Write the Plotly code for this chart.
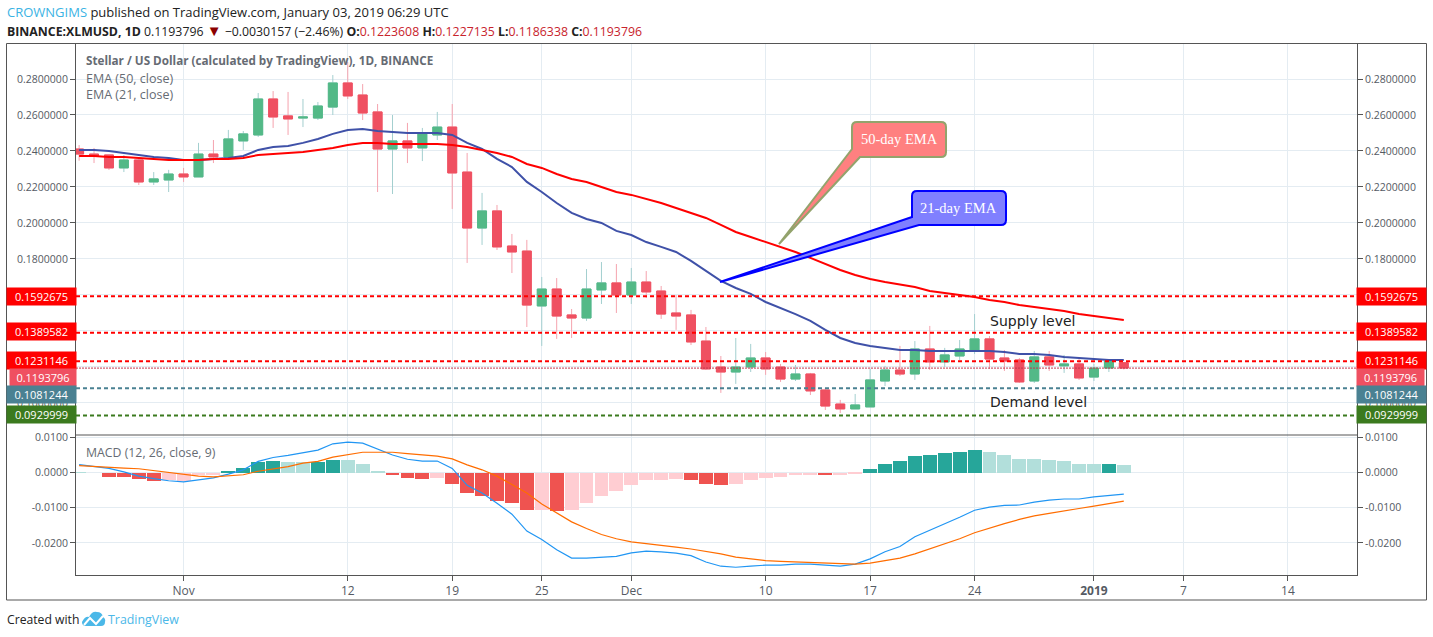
import pandas as pd
import plotly.graph_objects as go
from plotly.subplots import make_subplots

W, H = 1433, 637
LEFT, RIGHT, TOP, BOTTOM = 76, 1357, 43, 575

# daily candles, 2018-10-25 to 2019-01-03
dates = pd.date_range("2018-10-25", "2019-01-03", freq="D")
opens = [.2411, .2383, .2378, .2306, .2350, .2228, .2239,
         .2272, .2256, .2383, .2367, .2456, .2489, .2689, .2595, .2583, .2583, .2644, .2778, .2711, .2617, .2411,
         .2456, .2417, .2489, .2533, .2283, .1972, .2067, .1872, .1844, .1539, .1633, .1489, .1472, .1628, .1667,
         .1600, .1672, .1622, .1500, .1489, .1344, .1200, .1172, .1200, .1250, .1200, .1133, .1161, .1072, .0994,
         .0967, .0978, .1122, .1183, .1161, .1300, .1228, .1261, .1294, .1356, .1250, .1239, .1122, .1256, .1206,
         .1217, .1144, .1194, .12236]
highs = [.2433, .2417, .2378, .2378, .2367, .2283, .2295,
         .2306, .2445, .2461, .2517, .2511, .2722, .2733, .2728, .2689, .2672, .2822, .2894, .2772, .2661, .2600,
         .2556, .2528, .2617, .2661, .2389, .2167, .2100, .1939, .1906, .1700, .1694, .1522, .1744, .1783, .1772,
         .1750, .1733, .1650, .1600, .1517, .1422, .1261, .1361, .1328, .1283, .1217, .1211, .1167, .1083, .1017,
         .1050, .1189, .1206, .1317, .1344, .1428, .1306, .1350, .1494, .1372, .1294, .1250, .1289, .1289, .1267,
         .1244, .1217, .1239, .12271]
lows = [.2346, .2333, .2295, .2283, .2211, .2211, .2172,
        .2228, .2256, .2333, .2356, .2406, .2478, .2528, .2489, .2533, .2572, .2600, .2689, .2572, .2172, .2161,
        .2333, .2344, .2461, .2078, .1778, .1878, .1850, .1722, .1422, .1317, .1356, .1361, .1456, .1550, .1500,
        .1550, .1583, .1467, .1406, .1322, .1183, .1056, .1106, .1172, .1156, .1117, .1122, .1044, .0961, .0944,
        .0967, .0978, .1094, .1150, .1128, .1183, .1200, .1239, .1272, .1189, .1178, .1111, .1111, .1178, .1167,
        .1128, .1122, .1172, .11863]
closes = [.2383, .2372, .2306, .2350, .2228, .2245, .2272,
          .2256, .2383, .2367, .2467, .2495, .2689, .2589, .2578, .2589, .2650, .2778, .2706, .2611, .2411, .2456,
          .2417, .2494, .2533, .2278, .1972, .2067, .1867, .1839, .1544, .1633, .1483, .1472, .1633, .1667, .1600,
          .1672, .1617, .1494, .1483, .1339, .1189, .1172, .1200, .1250, .1189, .1133, .1161, .1067, .0983, .0967,
          .0989, .1128, .1183, .1161, .1300, .1228, .1267, .1300, .1356, .1244, .1233, .1117, .1256, .1211, .1217,
          .1139, .1194, .1233, .11938]

ema_21 = [.2406, .2406, .2400, .2389, .2378, .2367, .2361,
          .2350, .2350, .2356, .2361, .2372, .2406, .2422, .2428, .2445, .2467, .2495, .2517, .2522, .2511, .2506,
          .2500, .2500, .2500, .2489, .2445, .2411, .2356, .2311, .2228, .2172, .2111, .2056, .2022, .2000, .1956,
          .1933, .1894, .1867, .1839, .1789, .1733, .1678, .1639, .1606, .1561, .1528, .1494, .1456, .1406, .1361,
          .1333, .1317, .1306, .1294, .1294, .1289, .1289, .1289, .1289, .1289, .1283, .1272, .1272, .1267, .1256,
          .1250, .1244, .1239, .1239]
ema_50 = [.2372, .2372, .2367, .2367, .2361, .2356, .2350,
          .2350, .2350, .2356, .2356, .2361, .2378, .2383, .2389, .2394, .2406, .2417, .2433, .2445, .2445, .2439,
          .2439, .2439, .2439, .2433, .2422, .2406, .2389, .2367, .2328, .2306, .2272, .2244, .2228, .2200, .2172,
          .2156, .2133, .2111, .2083, .2056, .2028, .1989, .1950, .1922, .1894, .1867, .1839, .1806, .1772, .1739,
          .1711, .1689, .1672, .1656, .1644, .1622, .1611, .1600, .1589, .1572, .1561, .1544, .1533, .1522, .1511,
          .1494, .1483, .1472, .1461]

macd_hist = [.0001, 0, -.0011, -.0013, -.0019, -.0025, -.0022,
             -.0024, -.0008, -.0006, .0004, .0013, .0030, .0033, .0030, .0030, .0030, .0036, .0036, .0024, .0004, -.0007,
             -.0016, -.0019, -.0016, -.0031, -.0057, -.0066, -.0080, -.0086, -.0106, -.0106, -.0109, -.0106, -.0086, -.0066, -.0051,
             -.0034, -.0022, -.0022, -.0019, -.0022, -.0031, -.0034, -.0031, -.0022, -.0016, -.0013, -.0008, -.0008, -.0008, -.0008,
             -.0005, .0010, .0024, .0033, .0047, .0050, .0056, .0059, .0065, .0059, .0050, .0039, .0039, .0036, .0033,
             .0024, .0024, .0024, .0021]
# T strong up, t fading up, R strong down, r fading down
hist_state = ("ttRRRRr" + "rrrTTTTttTTtttRRRrRRRRRRrRrrrr"
              + "rrrrRRRrrrrrrRrrTTTTTTTTttttttt" + "tTt")
macd_line = [.0023, .0017, .0012, .0002, -.0010, -.0017, -.0023,
             -.0026, -.0021, -.0015, -.0004, .0008, .0032, .0043, .0049, .0056, .0064, .0082, .0087, .0084, .0066, .0050,
             .0038, .0033, .0033, .0012, -.0036, -.0058, -.0087, -.0118, -.0166, -.0190, -.0219, -.0243, -.0243, -.0240, -.0238,
             -.0228, -.0223, -.0225, -.0229, -.0236, -.0254, -.0266, -.0269, -.0266, -.0263, -.0263, -.0260, -.0260, -.0263, -.0266,
             -.0260, -.0245, -.0225, -.0210, -.0182, -.0164, -.0147, -.0127, -.0107, -.0098, -.0093, -.0092, -.0084, -.0078, -.0075,
             -.0075, -.0069, -.0064, -.0061]
macd_signal = [.0020, .0017, .0016, .0013, .0011, .0006, 0,
               -.0006, -.0010, -.0012, -.0010, -.0006, .0004, .0010, .0017, .0027, .0032, .0044, .0052, .0058, .0058, .0058,
               .0054, .0050, .0047, .0039, .0022, .0008, -.0010, -.0034, -.0058, -.0089, -.0114, -.0140, -.0159, -.0176, -.0188,
               -.0197, -.0202, -.0206, -.0212, -.0217, -.0223, -.0231, -.0240, -.0246, -.0250, -.0252, -.0254, -.0255, -.0257, -.0258,
               -.0260, -.0257, -.0250, -.0243, -.0231, -.0217, -.0202, -.0188, -.0171, -.0157, -.0145, -.0133, -.0123, -.0116, -.0108,
               -.0102, -.0095, -.0088, -.0081]

# horizontal levels drawn on the chart
supply_levels = [0.1592675, 0.1389582, 0.1231146]
demand_level_1 = 0.1081244
demand_level_2 = 0.0929999
last_close = 0.1193796

price_ticks = [0.28, 0.26, 0.24, 0.22, 0.20, 0.18, 0.16, 0.14, 0.12, 0.10]
# the 0.16, 0.14 and 0.12 labels sit fully behind the level tags
price_tick_text = ["0.2800000", "0.2600000", "0.2400000", "0.2200000", "0.2000000", "0.1800000", "", "", "", "0.1000000"]
macd_ticks = [0.01, 0, -0.01, -0.02]
macd_tick_text = ["0.0100", "0.0000", "-0.0100", "-0.0200"]
date_ticks = ["2018-11-01", "2018-11-12", "2018-11-19", "2018-11-25", "2018-12-01", "2018-12-10",
              "2018-12-17", "2018-12-24", "2019-01-01", "2019-01-07", "2019-01-14"]
date_tick_text = ["Nov", "12", "19", "25", "Dec", "10", "17", "24", "<b>2019</b>", "7", "14"]

x_range = ["2018-10-24 19:00", "2019-01-18 15:00"]
price_range = [0.0822, 0.30]
macd_range = [-0.0291, 0.0107]

FONT = "Open Sans"
TEXT_GREY = "#555a63"
AXIS = "#555555"
GRID = "#e4ecf2"
RED = "#ef5061"
GREEN = "#53b987"
HIST_COLORS = {"T": "#26a69a", "t": "#b2dfdb", "R": "#ef5350", "r": "#ffcdd2"}


def px(x):
    return (x - LEFT) / (RIGHT - LEFT)


def py(y):
    return (BOTTOM - y) / (BOTTOM - TOP)


def pt(x, y):
    return f"{px(x):.5f},{py(y):.5f}"


def callout_path(l, t, r, b, base1, tip, base2, rad=5):
    return ("M" + pt(*base1) + "L" + pt(*tip) + "L" + pt(*base2) + "L" + pt(r - rad, b)
            + "Q" + pt(r, b) + " " + pt(r, b - rad) + "L" + pt(r, t + rad)
            + "Q" + pt(r, t) + " " + pt(r - rad, t) + "L" + pt(l + rad, t)
            + "Q" + pt(l, t) + " " + pt(l, t + rad) + "Z")


fig = make_subplots(rows=2, cols=1, shared_xaxes=True, vertical_spacing=0,
                    row_heights=[392, 140],
                    specs=[[{"secondary_y": True}], [{"secondary_y": True}]])

# wicks first, solid bodies on top
fig.add_trace(go.Candlestick(x=dates, open=opens, high=highs, low=lows, close=closes,
                             increasing=dict(line=dict(color="#a3cfcf", width=1), fillcolor="#a3cfcf"),
                             decreasing=dict(line=dict(color="#f5a3ae", width=1), fillcolor="#f5a3ae"),
                             whiskerwidth=0), row=1, col=1)
body_hi = [max(o, c) for o, c in zip(opens, closes)]
body_lo = [min(o, c) for o, c in zip(opens, closes)]
fig.add_trace(go.Candlestick(x=dates, open=opens, high=body_hi, low=body_lo, close=closes,
                             increasing=dict(line=dict(color=GREEN, width=1), fillcolor=GREEN),
                             decreasing=dict(line=dict(color=RED, width=1), fillcolor=RED),
                             whiskerwidth=0), row=1, col=1)
fig.add_trace(go.Scatter(x=dates, y=ema_21, mode="lines", line=dict(color="#3f51a8", width=2)),
              row=1, col=1, secondary_y=True)
fig.add_trace(go.Scatter(x=dates, y=ema_50, mode="lines", line=dict(color="#ff0000", width=2)),
              row=1, col=1, secondary_y=True)

fig.add_trace(go.Bar(x=dates, y=macd_hist, width=86400000 * 0.93,
                     marker=dict(color=[HIST_COLORS[s] for s in hist_state], line=dict(width=0))),
              row=2, col=1)
fig.add_trace(go.Scatter(x=dates, y=macd_line, mode="lines", line=dict(color="#2196f3", width=1.2)),
              row=2, col=1, secondary_y=True)
fig.add_trace(go.Scatter(x=dates, y=macd_signal, mode="lines", line=dict(color="#ff6d00", width=1.2)),
              row=2, col=1, secondary_y=True)

shapes = []
# level lines
for lvl in supply_levels:
    shapes.append(dict(type="line", xref="paper", yref="y", x0=0, x1=1, y0=lvl, y1=lvl,
                       line=dict(color="#ff0000", width=2, dash="4px,3px")))
shapes.append(dict(type="line", xref="paper", yref="y", x0=0, x1=1, y0=demand_level_1, y1=demand_level_1,
                   line=dict(color="#4a8192", width=2, dash="4px,3px")))
shapes.append(dict(type="line", xref="paper", yref="y", x0=0, x1=1, y0=demand_level_2, y1=demand_level_2,
                   line=dict(color="#3b7a1e", width=2, dash="4px,3px")))
shapes.append(dict(type="line", xref="paper", yref="y", x0=0, x1=1, y0=last_close, y1=last_close,
                   line=dict(color="#c2384f", width=1, dash="2px,1px")))
# callouts
shapes.append(dict(type="path", xref="paper", yref="paper", fillcolor="#ff8080",
                   line=dict(color="#93a36c", width=2),
                   path=callout_path(852, 122, 946, 157, (852, 149), (779, 244), (860, 157))))
shapes.append(dict(type="path", xref="paper", yref="paper", fillcolor="#8080ff",
                   line=dict(color="#0000ff", width=2),
                   path=callout_path(912, 191, 1006, 225, (912, 217), (720, 282), (919, 225))))
# pane separator and outer frame
shapes.append(dict(type="line", xref="paper", yref="paper", x0=px(LEFT), x1=px(RIGHT), y0=py(435), y1=py(435),
                   line=dict(color=AXIS, width=1)))
shapes.append(dict(type="rect", xref="paper", yref="paper", x0=px(6.5), x1=px(1426.5), y0=py(600), y1=py(43.5),
                   line=dict(color=AXIS, width=1)))
# tradingview logo
shapes.append(dict(type="path", xref="paper", yref="paper", fillcolor="#4bb8e8", line=dict(width=0),
                   path="M" + pt(82, 622) + "Q" + pt(85, 616) + " " + pt(89, 617) + "Q" + pt(92, 611) + " " + pt(97, 612)
                        + "Q" + pt(102, 612) + " " + pt(103, 617) + "Q" + pt(106, 619) + " " + pt(105, 622)
                        + "Q" + pt(105, 626) + " " + pt(101, 626) + "L" + pt(86, 626) + "Q" + pt(82, 626) + " " + pt(82, 622) + "Z"))
shapes.append(dict(type="path", xref="paper", yref="paper", line=dict(color="white", width=2),
                   path="M" + pt(84, 625) + "L" + pt(90, 618) + "L" + pt(96, 624) + "L" + pt(103, 616)))

annotations = []


def text_at(x, y, text, size=12, color="#222222", family=FONT, anchor="left"):
    annotations.append(dict(xref="paper", yref="paper", x=px(x), y=py(y), text=text, showarrow=False,
                            xanchor=anchor, yanchor="middle", align=anchor,
                            font=dict(size=size, color=color, family=family)))


def price_label(cx, w, cy, value, bg):
    annotations.append(dict(xref="paper", yref="paper", x=px(cx), y=py(cy), text=f"{value:.7f}", showarrow=False,
                            xanchor="center", yanchor="middle", width=w, height=17, bgcolor=bg, borderpad=0,
                            font=dict(size=11, color="white", family=FONT)))


for side_cx, w_main, w_last, cx_last in [(41, 69, 66, 42.5), (1391.5, 69, 67, 1390.5)]:
    price_label(side_cx, w_main, 296, supply_levels[0], "#ff0000")
    price_label(side_cx, w_main, 332, supply_levels[1], "#ff0000")
    price_label(side_cx, w_main, 360.5, supply_levels[2], "#ff0000")
    price_label(side_cx, w_main, 414.5, demand_level_2, "#3b7a1e")
    price_label(cx_last, w_last, 377.5, last_close, "#ef5061")
    price_label(side_cx, w_main, 394.5, demand_level_1, "#4a8192")

text_at(5, 12, "<span style='color:#3bb3e4'>CROWNGIMS</span> published on TradingView.com, January 03, 2019 06:29 UTC", 13)
val_red = "#c8232c"
text_at(5, 30, "<b>BINANCE:XLMUSD, 1D</b> 0.1193796 <span style='color:#8b0000;font-size:15px'>▼</span> −0.0030157 (−2.46%) "
               f"<b>O:</b><span style='color:{val_red}'>0.1223608</span> "
               f"<b>H:</b><span style='color:{val_red}'>0.1227135</span> "
               f"<b>L:</b><span style='color:{val_red}'>0.1186338</span> "
               f"<b>C:</b><span style='color:{val_red}'>0.1193796</span>", 12.3)
text_at(83.5, 60, "<b>Stellar / US Dollar (calculated by TradingView), 1D, BINANCE</b>", 11.7, "#666b73")
text_at(83.5, 78, "EMA (50, close)", 12.5, "#666b73")
text_at(83.5, 94, "EMA (21, close)", 12.5, "#666b73")
text_at(83.5, 452, "MACD (12, 26, close, 9)", 12.3, "#666b73")
text_at(987.5, 321, "Supply level", 14, "#222222", "DejaVu Sans")
text_at(987.5, 402, "Demand level", 14, "#222222", "DejaVu Sans")
text_at(899, 139, "50-day EMA", 14.5, "white", "Liberation Serif", "center")
text_at(958, 208, "21-day EMA", 14.5, "white", "Liberation Serif", "center")
text_at(4.5, 619, "Created with", 12.2)
text_at(105.5, 619, "TradingView", 12.4, "#4bb8e8")

fig.update_layout(width=W, height=H, paper_bgcolor="white", plot_bgcolor="white", showlegend=False,
                  margin=dict(l=LEFT, r=W - RIGHT, t=TOP, b=H - BOTTOM, autoexpand=False),
                  boxgap=0.4, boxgroupgap=0, bargap=0, font=dict(family=FONT, size=12, color=TEXT_GREY),
                  shapes=shapes, annotations=annotations, hovermode=False)

x_style = dict(domain=[0, 1], range=x_range, type="date", tickmode="array", tickvals=date_ticks, ticktext=date_tick_text,
               showgrid=True, gridcolor=GRID, gridwidth=1, zeroline=False, rangeslider=dict(visible=False))
fig.update_xaxes(**x_style)
fig.update_xaxes(showline=True, linecolor=AXIS, linewidth=1, ticks="outside", ticklen=5, tickcolor=AXIS,
                 tickfont=dict(size=12, color=TEXT_GREY), row=2, col=1)

y_common = dict(showline=True, linecolor=AXIS, linewidth=1, ticks="outside", ticklen=5, tickcolor=AXIS,
                zeroline=False, tickfont=dict(size=10.5, color=TEXT_GREY), tickmode="array")
fig.update_layout(
    yaxis=dict(range=price_range, tickvals=price_ticks, ticktext=price_tick_text, side="left",
               showgrid=True, gridcolor=GRID, **y_common),
    yaxis2=dict(range=price_range, tickvals=price_ticks, ticktext=price_tick_text, side="right", showgrid=False, **y_common),
    yaxis3=dict(range=macd_range, tickvals=macd_ticks, ticktext=macd_tick_text, side="left",
                showgrid=True, gridcolor=GRID, **y_common),
    yaxis4=dict(range=macd_range, tickvals=macd_ticks, ticktext=macd_tick_text, side="right", showgrid=False, **y_common),
)

fig.write_html("out.html", config=dict(displayModeBar=False),
               post_script="document.body.style.margin='0';document.body.style.overflow='hidden';")
